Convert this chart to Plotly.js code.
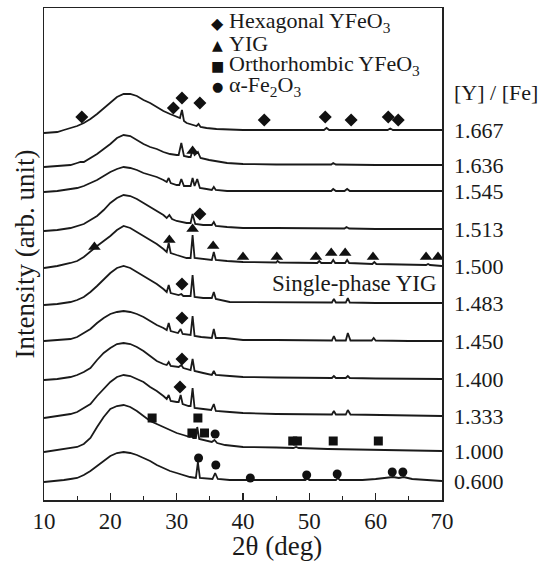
<!DOCTYPE html>
<html>
<head>
<meta charset="utf-8">
<script src="https://cdn.plot.ly/plotly-3.0.1.min.js"></script>
<style>html,body{margin:0;padding:0;background:#fff;}#chart{width:547px;height:564px;}</style>
</head>
<body>
<div id="chart"></div>
<script>
// [Y]/[Fe] ratio of each pattern, top to bottom
const ratios = ['1.667','1.636','1.545','1.513','1.500','1.483','1.450','1.400','1.333','1.000','0.600'];
// vertical stacking offset of each pattern (arb. unit)
const offsets = [370, 335, 309, 271, 234, 197, 159, 121, 84, 49, 19];

// XRD patterns: [2theta (deg), intensity above own baseline (arb. unit)]
const s1667 = [[10,-3],[12,-2],[13,0],[14,2],[15,4],[16,7],[17,11],[18,16],[19,22],[20,28],[21,33],[22,36],[23,36],[24,34],[25,30],[26,27],[27,23],[28,19],[29,16],[30,13],[30.5,12],[30.8,20],[31.1,9],[31.5,7],[32.4,5],[33.0,4],[33.3,6],[33.6,3],[34.5,2],[36,1],[38,0.5],[40,0],[52.2,0],[52.6,2],[53,0],[61.8,0],[62.2,1.5],[62.6,0],[70,0]];
const s1636 = [[10,-2],[12,-1],[14,0],[15,2],[15.5,3],[16,3],[17,7],[18,11],[19,16],[20,21],[21,27],[22,30],[23,29],[24,25],[25,21],[26,18],[27,16],[28,13],[29,11],[30,10],[30.3,10],[30.7,22],[31.1,9],[31.8,8],[32.1,8],[32.4,15],[32.7,10],[33.2,13],[33.6,7],[34.9,5],[36,4],[37.6,2],[40,1],[45,0.5],[53.3,0.5],[53.6,2],[54,0.5],[60,0],[70,0]];
const s1545 = [[10,-1],[12,0],[14,2],[15,3],[16,5],[17,8],[18,11],[19,15],[20,19],[21,22],[22,24],[23,23],[24,21],[25,18],[26,16],[27,14],[28,11],[28.5,9],[28.8,13],[29.1,8],[30,6],[30.4,6],[30.7,12],[31.1,5],[31.8,5],[32.1,5],[32.4,13],[32.7,5],[33.1,12],[33.5,3],[34.5,2],[35.3,1],[35.6,4],[35.9,1],[37.6,0],[45,0],[53.3,0],[53.6,2],[54,0],[55.3,0],[55.7,2],[56.1,0],[60,0],[70,0]];
const s1513 = [[10,-2],[12,-1],[14,1],[15,3],[16,5],[17,9],[18,13],[19,19],[20,26],[21,31],[22,34],[23,33],[24,30],[25,26],[26,22],[27,18],[28,14],[28.5,11],[28.9,14],[29.3,10],[30,8],[31.5,6],[32.1,6],[32.4,15],[32.8,5],[34,4],[35.3,4],[35.6,7],[35.9,3],[37.6,2],[40,1],[45,1],[50,0.5],[55.3,0.5],[55.6,2],[56,0.5],[60,0],[70,0]];
const s1500 = [[10,-2],[12,0],[14,3],[15,5],[16,9],[17,15],[18,20],[19,25],[20,30],[21,36],[22,40],[23,38],[24,34],[25,30],[26,26],[27,22],[28,17],[28.5,14],[28.8,23],[29.1,13],[30,11],[31.5,8],[32.1,8],[32.4,31],[32.7,8],[34,7],[35.3,6],[35.6,14],[35.9,6],[37.6,5],[40,4],[45,3.5],[45.2,5],[45.5,3.5],[50,3],[51.2,3],[51.5,5],[51.8,3],[53.3,3],[53.6,6],[53.9,3],[55.4,3],[55.7,6],[56,3],[59.5,2],[59.8,4],[60.1,2],[65,1],[67.6,1],[67.9,2],[68.2,1],[70,0]];
const s1483 = [[10,-2],[12,-1],[14,1],[15,3],[16,6],[17,11],[18,17],[19,24],[20,30],[21,35],[22,37],[23,35],[24,31],[25,27],[26,23],[27,19],[28,14],[28.5,11],[28.8,18],[29.1,10],[30.3,8],[30.7,9],[31,7],[32.1,7],[32.4,28],[32.7,6],[34,5],[35.3,5],[35.6,11],[35.9,4],[38,1],[40,1],[45,0.5],[50,0.5],[53.4,0.5],[53.7,4],[54,0.5],[55.5,0.5],[55.8,5],[56.1,0.5],[60,0],[70,0]];
const s1450 = [[10,0],[12,1],[14,2],[15,4],[16,8],[17,12],[18,18],[19,23],[20,27],[21,29],[22,30],[23,29],[24,27],[25,24],[26,20],[27,16],[28,13],[28.5,11],[28.8,18],[29.1,10],[30.2,8],[30.6,12],[30.9,7],[32.1,6],[32.4,25],[32.7,5],[33.7,4],[35.3,3],[35.6,12],[35.9,3],[37.3,3],[40,1],[45,1],[50,0.5],[53.4,0.5],[53.7,5],[54,0.5],[55.5,0.5],[55.8,8],[56.2,0.5],[59.4,0.5],[59.7,3],[60,0.5],[65,0],[70,0]];
const s1400 = [[10,-1],[12,0],[14,2],[15,4],[16,7],[17,11],[18,19],[19,26],[20,31],[21,35],[22,36],[23,35],[24,32],[25,28],[26,23],[27,18],[28,15],[28.5,14],[28.8,17],[29.1,13],[30.3,12],[30.7,14],[31,11],[32.1,9],[32.4,20],[32.7,8],[34,6],[35.3,4],[35.6,8],[35.9,4],[38,3],[40,2],[45,1.5],[50,1],[53.4,1],[53.7,3],[54,1],[55.5,1],[55.8,3],[56.1,1],[60,0.5],[70,0]];
const s1333 = [[10,-2],[12,0],[14,2],[15,4],[16,8],[17,12],[18,20],[19,27],[20,34],[21,39],[22,41],[23,40],[24,37],[25,34],[26,29],[27,25],[28,20],[28.5,17],[28.8,21],[29.1,15],[30,14],[30.3,14],[30.6,21],[30.9,12],[31.8,10],[32.1,10],[32.4,28],[32.7,8],[34,7],[35.2,6],[35.6,12],[35.9,5],[38,4],[40,3],[45,2],[50,1.5],[53.4,1.5],[53.7,5],[54,1.5],[55.5,1.5],[55.8,6],[56.2,1.5],[60,1],[70,0]];
const s1000 = [[10,-1],[12,1],[14,3],[15,4],[16,7],[17,13],[18,24],[19,34],[20,42],[21,45],[22,46],[23,44],[24,40],[25,35],[26,30],[27,27],[28,24],[29,21],[30,18],[31,16],[32,14],[32.2,15],[32.5,13],[32.9,13],[33.1,24],[33.4,12],[34.1,11],[34.4,10],[35.3,9],[35.7,11],[36.1,8],[37.3,6],[40,4],[45,3.5],[47.6,3],[48,4],[48.4,3],[52.8,2],[60,1],[70,0]];
const s0600 = [[10,-1],[12,0],[13,1],[14,2],[15,3],[16,6],[17,10],[18,15],[19,20],[20,25],[21,28],[22,29],[23,28],[24,26],[25,23],[26,20],[27,16],[28,13],[29,10],[30,8],[31,6],[32,4],[32.9,3],[33.2,19],[33.5,3],[35.4,2],[35.8,8],[36.2,2],[38,1],[40,1],[40.8,1],[41.1,2],[41.4,1],[45,1],[49.4,1],[49.7,2.5],[50,1],[54,1],[54.3,3],[54.6,1],[58,1],[60,2],[62,3],[62.6,4],[63.5,3],[64.2,4],[65.5,2],[68,1],[70,0]];
const patterns = [s1667, s1636, s1545, s1513, s1500, s1483, s1450, s1400, s1333, s1000, s0600];

// phase markers (2theta, absolute stacked intensity)
const hexX = [15.7, 29.5, 30.8, 33.5, 43.2, 52.4, 56.3, 61.9, 63.4, 33.5, 30.8, 30.8, 30.8, 30.5];
const hexY = [383, 392, 402, 397, 380, 383, 380, 383, 380, 286, 216, 182, 141, 113];
const yigX = [32.4, 17.6, 28.9, 32.4, 35.5, 40.0, 45.1, 51.0, 53.3, 55.4, 59.6, 67.6, 69.4];
const yigY = [349, 253, 260, 271, 254, 243, 243, 243, 247, 247, 243, 243, 243];
const orthoX = [26.3, 33.2, 32.3, 34.2, 47.5, 48.2, 53.6, 60.4];
const orthoY = [82, 82, 67, 67, 59, 59, 59, 59];
const hemX = [35.8, 33.3, 35.9, 41.1, 49.6, 54.2, 62.5, 64.1];
const hemY = [66, 42, 35, 22, 25, 26, 28, 28];

const legendNames = ['Hexagonal YFeO<sub>3</sub>', 'YIG', 'Orthorhombic YFeO<sub>3</sub>', 'α-Fe<sub>2</sub>O<sub>3</sub>'];
const legendGlyphs = ['◆', '▲', '■', '●'];

const SERIF = 'Liberation Serif, Times New Roman, serif';
const INK = '#1a1a1a';

const traces = [];
patterns.forEach((p, i) => {
  traces.push({
    type: 'scatter', mode: 'lines', name: ratios[i],
    x: p.map(d => d[0]), y: p.map(d => d[1] + offsets[i]),
    line: {color: INK, width: 1.8}, showlegend: false, hoverinfo: 'skip'
  });
});
const markerSets = [
  [hexX, hexY, 'diamond', 10],
  [yigX, yigY, 'triangle-up', 11],
  [orthoX, orthoY, 'square', 9],
  [hemX, hemY, 'circle', 9]
];
markerSets.forEach((m, i) => {
  traces.push({
    type: 'scatter', mode: 'markers', name: legendNames[i],
    x: m[0], y: m[1], marker: {symbol: m[2], size: m[3], color: '#111'},
    showlegend: false, hoverinfo: 'skip'
  });
});

const L = 44, R = 442, T = 8, B = 500;
const px2paperX = v => (v - L) / (R - L);
const px2paperY = v => (B - v) / (B - T);

const annotations = [];
ratios.forEach((r, i) => {
  annotations.push({text: r, xref: 'paper', x: px2paperX(452), xanchor: 'left', yref: 'y', y: offsets[i], yanchor: 'middle', showarrow: false, font: {family: SERIF, size: 22, color: INK}});
});
annotations.push({text: '[Y] / [Fe]', xref: 'paper', x: px2paperX(452), xanchor: 'left', yref: 'paper', y: px2paperY(92), yanchor: 'middle', showarrow: false, font: {family: SERIF, size: 22, color: INK}});
annotations.push({text: 'Single-phase YIG', xref: 'paper', x: px2paperX(439), xanchor: 'right', yref: 'paper', y: px2paperY(283), yanchor: 'middle', showarrow: false, font: {family: SERIF, size: 23, color: INK}});
const legRows = [22, 43.5, 65, 86];
const glyphSizes = [16, 14, 14, 13];
legendNames.forEach((n, i) => {
  annotations.push({text: legendGlyphs[i], xref: 'paper', x: px2paperX(217), xanchor: 'center', yref: 'paper', y: px2paperY(legRows[i] + 1), yanchor: 'middle', showarrow: false, font: {family: 'DejaVu Sans', size: glyphSizes[i], color: '#111'}});
  annotations.push({text: n, xref: 'paper', x: px2paperX(227), xanchor: 'left', yref: 'paper', y: px2paperY(legRows[i]), yanchor: 'middle', showarrow: false, font: {family: SERIF, size: 22, color: INK}});
});
annotations.push({text: '2θ (deg)', xref: 'paper', x: px2paperX(277), xanchor: 'center', yref: 'paper', y: px2paperY(546), yanchor: 'middle', showarrow: false, font: {family: SERIF, size: 27, color: INK}});

const layout = {
  width: 547, height: 564,
  margin: {l: L, r: 547 - R, t: T, b: 564 - B, pad: 0},
  paper_bgcolor: '#fff', plot_bgcolor: '#fff',
  font: {family: SERIF, color: INK},
  showlegend: false,
  xaxis: {
    range: [10, 70], tick0: 10, dtick: 10, ticks: 'inside', ticklen: 7, tickwidth: 1.3, tickcolor: '#222',
    minor: {dtick: 5, ticks: 'inside', ticklen: 4, tickwidth: 1.3, tickcolor: '#222'},
    showgrid: false, zeroline: false, showline: true, mirror: true, linecolor: '#222', linewidth: 1.5,
    tickfont: {family: SERIF, size: 23, color: INK}, fixedrange: true
  },
  yaxis: {
    range: [0, 492], showticklabels: false, ticks: '', showgrid: false, zeroline: false,
    showline: true, mirror: true, linecolor: '#222', linewidth: 1.5, fixedrange: true,
    title: {text: 'Intensity (arb. unit)', font: {family: SERIF, size: 27, color: INK}, standoff: 0}
  },
  annotations: annotations
};

Plotly.newPlot('chart', traces, layout, {displayModeBar: false, staticPlot: true});
</script>
</body>
</html>
